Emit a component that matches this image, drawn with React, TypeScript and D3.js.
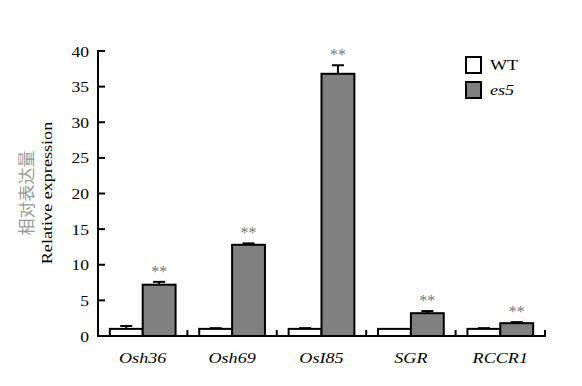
import * as d3 from 'd3';

const genes = ['Osh36', 'Osh69', 'OsI85', 'SGR', 'RCCR1'];
const series = ['WT', 'es5'];
const wtValues = [1.0, 1.0, 1.0, 1.0, 1.0];
const wtErrors = [0.4, 0.1, 0.1, 0, 0.1];
const es5Values = [7.2, 12.8, 36.8, 3.2, 1.8];
const es5Errors = [0.4, 0.2, 1.2, 0.3, 0.15];
const yTicks = [0, 5, 10, 15, 20, 25, 30, 35, 40];

const W = 582;
const H = 386;
const serif = "'Times New Roman', 'Liberation Serif', 'DejaVu Serif', serif";
// the source figure's text is stretched a little horizontally
const SX = 1.17;

export default function App() {
  const x = d3.scaleBand().domain(genes).range([98, 545]).padding(0);
  const inner = d3.scaleBand().domain(series).range([0, x.bandwidth()]).paddingInner(0).paddingOuter(0.36);
  const y = d3.scaleLinear().domain([0, 40]).range([336, 51]);

  const rows = genes.map((g, i) => ({
    gene: g,
    bars: [
      { s: 'WT', v: wtValues[i], e: wtErrors[i], fill: '#ffffff', star: false },
      { s: 'es5', v: es5Values[i], e: es5Errors[i], fill: '#808080', star: true },
    ],
  }));

  const tf = { fontFamily: serif };

  return (
    <svg width={W} height={H} style={{ position: 'absolute', left: 0, top: 0 }}>
      <rect width={W} height={H} fill="#fff" />
      {rows.map(r => (
        <g key={r.gene} transform={`translate(${x(r.gene)},0)`}>
          {r.bars.map(b => {
            const bx = inner(b.s) as number;
            const bw = inner.bandwidth();
            const cx = bx + bw / 2;
            const top = y(b.v + b.e);
            return (
              <g key={b.s}>
                {b.e > 0 && (
                  <g stroke="#000" strokeWidth={2}>
                    <line x1={cx} x2={cx} y1={y(b.v)} y2={top} />
                    <line x1={cx - 6} x2={cx + 6} y1={top} y2={top} />
                  </g>
                )}
                <rect x={bx} y={y(b.v)} width={bw} height={y(0) - y(b.v)} fill={b.fill} stroke="#000" strokeWidth={2} />
                {b.star && (
                  <text x={cx} y={top - 5} textAnchor="middle" style={tf} fontSize={16} fill="#777">**</text>
                )}
              </g>
            );
          })}
          <g transform={`translate(${x.bandwidth() / 2},363) scale(${SX},1)`}>
            <text textAnchor="middle" style={tf} fontStyle="italic" fontSize={15.5}>{r.gene}</text>
          </g>
        </g>
      ))}
      {/* category separators */}
      {genes.map(g => {
        const tx = (x(g) as number) + x.bandwidth();
        return <line key={g} x1={tx} x2={tx} y1={y(0)} y2={y(0) - 6} stroke="#000" strokeWidth={2} />;
      })}
      {/* axes */}
      <line x1={98} x2={98} y1={y(40) - 1} y2={y(0) + 1} stroke="#000" strokeWidth={2} />
      <line x1={97} x2={546} y1={y(0)} y2={y(0)} stroke="#000" strokeWidth={2} />
      {yTicks.map(t => (
        <g key={t}>
          <line x1={98} x2={105} y1={y(t)} y2={y(t)} stroke="#000" strokeWidth={2} />
          <g transform={`translate(89,${y(t) + 5.5}) scale(${SX},1)`}>
            <text textAnchor="end" style={tf} fontSize={15}>{t}</text>
          </g>
        </g>
      ))}
      <text transform="translate(33,193) rotate(-90)" textAnchor="middle" style={{ fontFamily: "'Noto Sans CJK SC', sans-serif" }} fontSize={17} fill="#9a9a9a">相对表达量</text>
      <g transform={`translate(52,193) rotate(-90) scale(${SX},1)`}>
        <text textAnchor="middle" style={tf} fontSize={15.5}>Relative expression</text>
      </g>
      {/* legend */}
      {series.map((s, i) => (
        <g key={s} transform={`translate(466,${57 + i * 25})`}>
          <rect x={0} y={0} width={15} height={16} fill={i === 0 ? '#fff' : '#808080'} stroke="#000" strokeWidth={2} />
          <g transform={`translate(24,13) scale(${SX},1)`}>
            <text style={tf} fontSize={15.5} fontStyle={i === 0 ? 'normal' : 'italic'}>{s}</text>
          </g>
        </g>
      ))}
    </svg>
  );
}
